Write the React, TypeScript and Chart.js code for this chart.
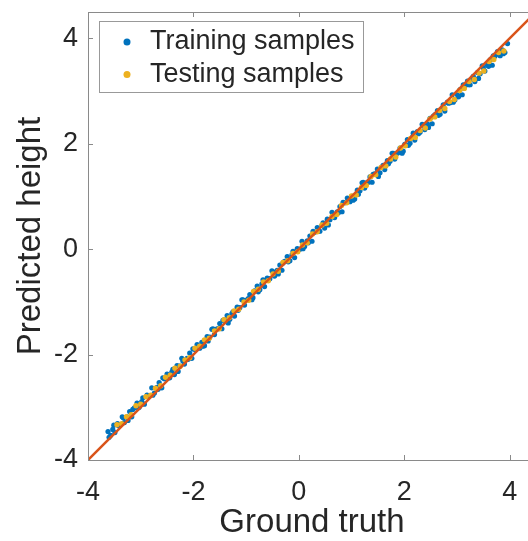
import React, { useEffect, useRef } from "react";
import { Chart, registerables } from "chart.js";

Chart.register(...registerables);

const trainX = [
  -3.62, -3.57, -3.53, -3.49, -3.44, -3.4, -3.35, -3.31, -3.26, -3.21, -3.17, -3.12, -3.07, -3.03, -2.98, -2.93,
  -2.88, -2.84, -2.79, -2.74, -2.69, -2.65, -2.6, -2.55, -2.5, -2.45, -2.41, -2.36, -2.31, -2.26, -2.22, -2.17,
  -2.12, -2.07, -2.03, -1.98, -1.93, -1.88, -1.84, -1.79, -1.74, -1.69, -1.65, -1.6, -1.55, -1.5, -1.46, -1.41,
  -1.36, -1.31, -1.27, -1.22, -1.17, -1.12, -1.08, -1.03, -0.98, -0.93, -0.89, -0.84, -0.79, -0.74, -0.7, -0.65,
  -0.6, -0.55, -0.51, -0.46, -0.41, -0.36, -0.32, -0.27, -0.22, -0.17, -0.13, -0.08, -0.03, 0.02, 0.06, 0.11,
  0.16, 0.21, 0.25, 0.3, 0.35, 0.4, 0.44, 0.49, 0.54, 0.59, 0.63, 0.68, 0.73, 0.78, 0.82, 0.87, 0.92, 0.97, 1.01,
  1.06, 1.11, 1.16, 1.2, 1.25, 1.3, 1.35, 1.39, 1.44, 1.49, 1.54, 1.58, 1.63, 1.68, 1.73, 1.77, 1.82, 1.87, 1.92,
  1.96, 2.01, 2.06, 2.11, 2.15, 2.2, 2.25, 2.3, 2.34, 2.39, 2.44, 2.49, 2.53, 2.58, 2.63, 2.68, 2.72, 2.77, 2.82,
  2.87, 2.91, 2.96, 3.01, 3.06, 3.1, 3.15, 3.2, 3.25, 3.29, 3.34, 3.39, 3.44, 3.48, 3.53, 3.58, 3.63, 3.67, 3.72,
  3.77, 3.82, 3.86, 3.91, 3.96,
  -3.6, -3.51, -3.42, -3.33, -3.24, -3.15, -3.05, -2.96, -2.86, -2.77, -2.67, -2.58, -2.48, -2.39, -2.29, -2.2,
  -2.1, -2.01, -1.91, -1.82, -1.72, -1.63, -1.53, -1.44, -1.34, -1.25, -1.15, -1.06, -0.96, -0.87, -0.77, -0.68,
  -0.58, -0.49, -0.39, -0.3, -0.2, -0.11, -0.01, 0.08, 0.18, 0.27, 0.37, 0.46, 0.56, 0.65, 0.75, 0.84, 0.94, 1.03,
  1.13, 1.22, 1.32, 1.41, 1.51, 1.6, 1.7, 1.79, 1.89, 1.98, 2.08, 2.17, 2.27, 2.36, 2.46, 2.55, 2.65, 2.74, 2.84,
  2.93, 3.03, 3.12, 3.22, 3.31, 3.41, 3.5, 3.6, 3.69, 3.79, 3.88,
];
const trainY = [
  -3.46, -3.53, -3.42, -3.48, -3.31, -3.34, -3.18, -3.29, -3.18, -3.08, -3.18, -3.01, -2.92, -3.0, -2.89, -2.94,
  -2.77, -2.79, -2.63, -2.73, -2.62, -2.53, -2.63, -2.46, -2.37, -2.44, -2.33, -2.38, -2.21, -2.22, -2.07, -2.18,
  -2.07, -1.97, -2.07, -1.9, -1.81, -1.88, -1.77, -1.83, -1.66, -1.67, -1.52, -1.62, -1.51, -1.41, -1.51, -1.34,
  -1.26, -1.33, -1.22, -1.27, -1.1, -1.11, -0.96, -1.06, -0.96, -0.86, -0.96, -0.79, -0.7, -0.77, -0.66, -0.71,
  -0.55, -0.56, -0.41, -0.51, -0.4, -0.3, -0.4, -0.23, -0.14, -0.22, -0.11, -0.16, 0.01, 0.0, 0.15, 0.05,
  0.16, 0.25, 0.15, 0.32, 0.41, 0.34, 0.45, 0.4, 0.57, 0.56, 0.7, 0.6, 0.71, 0.81, 0.71, 0.88, 0.97, 0.9, 1.0,
  0.95, 1.12, 1.11, 1.26, 1.16, 1.27, 1.37, 1.27, 1.43, 1.52, 1.45, 1.56, 1.51, 1.68, 1.67, 1.82, 1.71, 1.82, 1.92,
  1.82, 1.99, 2.08, 2.01, 2.12, 2.07, 2.23, 2.22, 2.37, 2.27, 2.38, 2.48, 2.38, 2.55, 2.63, 2.56, 2.67, 2.62, 2.79,
  2.78, 2.93, 2.83, 2.93, 3.03, 2.93, 3.1, 3.19, 3.12, 3.23, 3.18, 3.35, 3.33, 3.48, 3.38, 3.49, 3.59, 3.49, 3.66,
  3.75, 3.67, 3.78, 3.73, 3.9,
  -3.57, -3.34, -3.35, -3.2, -3.25, -3.04, -3.01, -2.82, -2.79, -2.77, -2.66, -2.44, -2.44, -2.28, -2.32, -2.12,
  -2.09, -1.89, -1.86, -1.84, -1.74, -1.51, -1.51, -1.35, -1.4, -1.19, -1.16, -0.96, -0.94, -0.92, -0.81, -0.58,
  -0.59, -0.43, -0.47, -0.26, -0.24, -0.04, -0.01, 0.01, 0.12, 0.34, 0.34, 0.5, 0.46, 0.66, 0.69, 0.89, 0.92, 0.93,
  1.04, 1.27, 1.27, 1.42, 1.38, 1.59, 1.62, 1.82, 1.84, 1.86, 1.97, 2.2, 2.19, 2.35, 2.31, 2.52, 2.54, 2.74, 2.77,
  2.79, 2.89, 3.12, 3.12, 3.28, 3.24, 3.44, 3.47, 3.67, 3.7, 3.71,
];
const testX = [
  -3.45, -3.36, -3.27, -3.18, -3.09, -3.0, -2.9, -2.81, -2.72, -2.62, -2.53, -2.44, -2.35, -2.25, -2.16, -2.07,
  -1.97, -1.88, -1.79, -1.7, -1.6, -1.51, -1.42, -1.32, -1.23, -1.14, -1.04, -0.95, -0.86, -0.77, -0.67, -0.58,
  -0.49, -0.39, -0.3, -0.21, -0.11, -0.02, 0.07, 0.16, 0.26, 0.35, 0.44, 0.53, 0.63, 0.72, 0.81, 0.91, 1.0, 1.09,
  1.19, 1.28, 1.37, 1.46, 1.56, 1.65, 1.74, 1.84, 1.93, 2.02, 2.12, 2.21, 2.3, 2.4, 2.49, 2.58, 2.67, 2.77, 2.86,
  2.95, 3.05, 3.14, 3.23, 3.33, 3.42, 3.51, 3.61, 3.7, 3.79, 3.89,
];
const testY = [
  -3.33, -3.31, -3.18, -3.14, -2.97, -2.94, -2.8, -2.77, -2.64, -2.59, -2.43, -2.39, -2.26, -2.22, -2.1, -2.06,
  -1.88, -1.84, -1.72, -1.69, -1.55, -1.51, -1.34, -1.3, -1.17, -1.14, -1.0, -0.97, -0.8, -0.76, -0.62, -0.6,
  -0.47, -0.42, -0.25, -0.22, -0.08, -0.05, 0.08, 0.12, 0.29, 0.33, 0.46, 0.49, 0.62, 0.66, 0.83, 0.88, 1.01, 1.03,
  1.17, 1.21, 1.38, 1.41, 1.55, 1.58, 1.71, 1.75, 1.92, 1.96, 2.1, 2.12, 2.25, 2.3, 2.47, 2.51, 2.63, 2.67, 2.8,
  2.84, 3.01, 3.05, 3.18, 3.22, 3.34, 3.38, 3.56, 3.6, 3.73, 3.76,
];
const refLine = [-4, 4.5];
const xTicks = [-4, -2, 0, 2, 4];
const yTicks = [-4, -2, 0, 2, 4];
const legendLabels = ["Training samples", "Testing samples"];
const seriesColors = ["#0072BD", "#EDB120"];
const lineColor = "#D95319";

const FONT = '"Liberation Sans", Arial, Helvetica, sans-serif';
const TEXT = "#262626";
const AXIS = "#8a8a8a";

const boxPlugin = {
  id: "matlabBox",
  afterDatasetsDraw(chart: any) {
    const { ctx, chartArea: a, scales } = chart;
    ctx.save();
    ctx.strokeStyle = AXIS;
    ctx.lineWidth = 1;
    ctx.beginPath();
    ctx.rect(a.left + 0.5, a.top + 0.5, a.right - a.left, a.bottom - a.top);
    const tl = 5;
    xTicks.forEach((v) => {
      const px = Math.round(scales.x.getPixelForValue(v)) + 0.5;
      ctx.moveTo(px, a.bottom);
      ctx.lineTo(px, a.bottom - tl);
      ctx.moveTo(px, a.top);
      ctx.lineTo(px, a.top + tl);
    });
    yTicks.forEach((v) => {
      const py = Math.round(scales.y.getPixelForValue(v)) + 0.5;
      ctx.moveTo(a.left, py);
      ctx.lineTo(a.left + tl, py);
      ctx.moveTo(a.right, py);
      ctx.lineTo(a.right - tl, py);
    });
    ctx.stroke();

    // legend
    const lx = a.left + 11;
    const ly = a.top + 9;
    const lw = 264;
    const lh = 71;
    ctx.fillStyle = "#ffffff";
    ctx.fillRect(lx, ly, lw, lh);
    ctx.strokeStyle = "#999999";
    ctx.strokeRect(lx + 0.5, ly + 0.5, lw, lh);
    ctx.font = `27px ${FONT}`;
    ctx.textBaseline = "middle";
    ctx.textAlign = "left";
    legendLabels.forEach((label, i) => {
      const cy = ly + 20 + i * 32.5;
      ctx.fillStyle = seriesColors[i];
      ctx.beginPath();
      ctx.arc(lx + 28, cy + 1, 3.5, 0, Math.PI * 2);
      ctx.fill();
      ctx.fillStyle = TEXT;
      ctx.fillText(label, lx + 51, cy + 1);
    });
    ctx.restore();
  },
};

export default function App() {
  const ref = useRef<HTMLCanvasElement>(null);

  useEffect(() => {
    if (!ref.current) return;
    const chart = new Chart(ref.current, {
      type: "scatter",
      data: {
        datasets: [
          {
            label: "Reference",
            data: refLine.map((v) => ({ x: v, y: v })),
            showLine: true,
            borderColor: lineColor,
            borderWidth: 2.5,
            pointRadius: 0,
            order: 0,
          },
          {
            label: legendLabels[1],
            data: testX.map((x, i) => ({ x, y: testY[i] })),
            backgroundColor: seriesColors[1],
            borderWidth: 0,
            pointRadius: 2.7,
            order: 1,
          },
          {
            label: legendLabels[0],
            data: trainX.map((x, i) => ({ x, y: trainY[i] })),
            backgroundColor: seriesColors[0],
            borderWidth: 0,
            pointRadius: 2.6,
            order: 2,
          },
        ],
      },
      options: {
        animation: false,
        responsive: false,
        devicePixelRatio: 1,
        layout: { padding: { left: 0, top: 12, right: 4, bottom: 0 } },
        plugins: { legend: { display: false }, tooltip: { enabled: false } },
        scales: {
          x: {
            type: "linear",
            min: -4,
            max: 4.5,
            afterBuildTicks: (s: any) => {
              s.ticks = xTicks.map((v) => ({ value: v }));
            },
            afterFit: (s: any) => {
              s.height = 81;
              s.paddingLeft = 0;
              s.paddingRight = 0;
            },
            grid: { display: false, drawTicks: false },
            border: { display: false },
            ticks: {
              font: { family: FONT, size: 27 },
              color: TEXT,
              padding: 16,
              maxRotation: 0,
              callback: (v: any) => String(v),
            },
            title: {
              display: true,
              text: "Ground truth",
              font: { family: FONT, size: 33, lineHeight: 1.1 },
              color: TEXT,
              padding: { top: 0, bottom: 0 },
            },
          },
          y: {
            type: "linear",
            min: -4,
            max: 4.5,
            afterBuildTicks: (s: any) => {
              s.ticks = yTicks.map((v) => ({ value: v }));
            },
            afterFit: (s: any) => {
              s.width = 88;
              s.paddingTop = 0;
              s.paddingBottom = 0;
            },
            grid: { display: false, drawTicks: false },
            border: { display: false },
            ticks: {
              font: { family: FONT, size: 27 },
              color: TEXT,
              padding: 10,
              callback: (v: any) => String(v),
            },
            title: {
              display: true,
              text: "Predicted height",
              font: { family: FONT, size: 33, lineHeight: 1.1 },
              color: TEXT,
              padding: { top: 13, bottom: 0 },
            },
          },
        },
      },
      plugins: [boxPlugin],
    });
    return () => chart.destroy();
  }, []);

  return (
    <div
      style={{
        position: "fixed",
        left: 0,
        top: 0,
        width: 528,
        height: 541,
        overflow: "hidden",
        background: "#fff",
      }}
    >
      <canvas ref={ref} width={540} height={541} style={{ display: "block" }} />
    </div>
  );
}
